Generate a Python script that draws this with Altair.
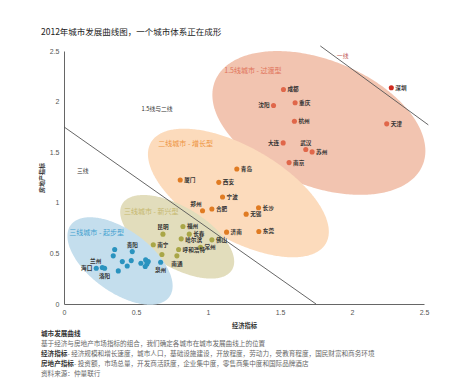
import altair as alt
import numpy as np
import pandas as pd

FONT = "Noto Sans CJK SC"
NUMFONT = "Liberation Sans"

# ---------------- data ----------------
city_names = ["深圳", "成都", "重庆", "沈阳", "杭州", "天津", "大连", "武汉", "苏州", "南京",
              "青岛", "厦门", "西安", "宁波", "郑州", "合肥", "长沙", "无锡", "济南", "东莞",
              "福州", "昆明", "长春", "哈尔滨", "佛山", "南宁", "常州", "呼和浩特", "南通", "",
              "贵阳", "", "", "", "", "", "", "", "", "", "", "", "泉州", "海口", "兰州", "洛阳"]
city_x = [2.273, 1.524, 1.605, 1.455, 1.600, 2.241, 1.522, 1.679, 1.723, 1.563,
          1.200, 0.807, 1.075, 1.101, 0.962, 1.027, 1.351, 1.265, 1.129, 1.353,
          0.826, 0.687, 0.870, 0.814, 1.027, 0.620, 0.948, 0.796, 0.784, 0.680,
          0.474, 0.352, 0.342, 0.405, 0.467, 0.439, 0.377, 0.534, 0.567, 0.585, 0.576, 0.564,
          0.671, 0.224, 0.266, 0.282]
city_y = [2.137, 2.120, 1.988, 1.962, 1.806, 1.780, 1.592, 1.526, 1.503, 1.397,
          1.334, 1.225, 1.202, 1.057, 0.921, 0.938, 0.951, 0.888, 0.710, 0.717,
          0.766, 0.690, 0.690, 0.644, 0.634, 0.585, 0.561, 0.538, 0.476, 0.489,
          0.518, 0.538, 0.476, 0.419, 0.429, 0.376, 0.327, 0.403, 0.436, 0.419, 0.396, 0.370,
          0.413, 0.353, 0.360, 0.353]
city_group = (["一线"] + ["1.5线"] * 9 + ["二线"] * 10 + ["新兴"] * 10 + ["起步"] * 16)
label_side = ["r", "r", "r", "l", "r", "r", "l", "t", "r", "r",
              "r", "r", "r", "r", "tl", "r", "r", "r", "r", "r",
              "r", "t", "r", "rd", "r", "r", "r", "r", "b", "r",
              "t", "r", "r", "r", "r", "r", "r", "r", "r", "r", "r", "r",
              "b", "l", "tl", "b"]

group_names = ["一线", "1.5线", "二线", "新兴", "起步"]
point_colors = ["#cf2a1e", "#e0674a", "#e07b22", "#a9a647", "#2a93bf"]

# ellipse shapes: centre (data units), semi-axes (px), tilt (deg)
ell_names = ["1.5线", "二线", "新兴", "起步"]
ell_cx = [1.770, 1.211, 0.786, 0.389]
ell_cy = [1.789, 1.097, 0.664, 0.425]
ell_a = [112, 101, 64, 61]
ell_b = [63, 46, 30, 31]
ell_deg = [22, 30, 31, 36]
ell_colors = ["#f2c4b0", "#fcdbbc", "#e2ddbc", "#c4deed"]

group_label_text = ["1.5线城市 - 过渡型", "二线城市 - 增长型", "三线城市 - 新兴型", "三线城市 - 起步型"]
group_label_x = [1.113, 0.655, 0.417, 0.037]
group_label_y = [2.302, 1.581, 0.909, 0.705]
group_label_colors = ["#e0735a", "#ee9440", "#c6b86e", "#3f9ecf"]

zone_text = ["1.5线与二线", "三线", "一线"]
zone_x = [0.646, 0.130, 1.935]
zone_y = [1.927, 1.314, 2.45]
zone_colors = ["#333333", "#333333", "#c0504d"]

line_id = ["a", "a", "b", "b"]
line_x = [0.0, 1.75, 1.78, 2.53]
line_y = [1.75, 0.0, 2.55, 1.77]

tick_vals = [0, 0.5, 1, 1.5, 2, 2.5]

title_text = "2012年城市发展曲线图，一个城市体系正在成形"
notes_bold = ["城市发展曲线", "", "经济指标", "房地产指标", ""]
notes_rest = ["",
              "基于经济与房地产市场指标的组合，我们确定各城市在城市发展曲线上的位置",
              " - 经济规模和增长速度，城市人口，基础设施建设，开放程度，劳动力，受教育程度，国民财富和商务环境",
              " - 投资额，市场总量，开发商活跃度，企业集中度，零售商集中度和国际品牌酒店",
              "资料来源：仲量联行"]

# ---------------- layout ----------------
W, H = 360, 253
PXX, PXY = W / 2.5, H / 2.5

XS = alt.Scale(domain=[0, 2.5], nice=False, zero=False)
YS = alt.Scale(domain=[0, 2.5], nice=False, zero=False)
xaxis = alt.Axis(values=tick_vals, format="~g", title="经济指标", grid=False, ticks=False,
                 labelPadding=4, labelFontSize=7, labelColor="#555", labelFont=NUMFONT,
                 titleFont=FONT, titleFontSize=6.3, titleFontWeight="bold", titleColor="#333",
                 titlePadding=7, domainColor="#666", labelFlush=False)
yaxis = alt.Axis(values=tick_vals, format="~g", title="房地产指标", grid=False, ticks=False,
                 labelPadding=5, labelFontSize=7, labelColor="#555", labelFont=NUMFONT,
                 titleFont=FONT, titleFontSize=6, titleFontWeight="bold", titleColor="#333",
                 titlePadding=5, domainColor="#666", labelFlush=False)


def X():
    return alt.X("x:Q", scale=XS, axis=xaxis)


def Y():
    return alt.Y("y:Q", scale=YS, axis=yaxis)


layers = []

# ellipses (filled bands between the upper and lower edge of each tilted ellipse)
for nm, cx, cy, a, b, deg, col in zip(ell_names, ell_cx, ell_cy, ell_a, ell_b, ell_deg, ell_colors):
    th = np.radians(deg)
    c, s = np.cos(th), np.sin(th)
    A = s * s / a ** 2 + c * c / b ** 2
    h = np.sqrt(a * a * c * c + b * b * s * s)
    Xp = h * np.cos(np.linspace(np.pi, 0, 181))
    B = 2 * c * s * (1 / b ** 2 - 1 / a ** 2) * Xp
    C = Xp * Xp * (c * c / a ** 2 + s * s / b ** 2) - 1
    disc = np.sqrt(np.clip(B * B - 4 * A * C, 0, None))
    Yu = (-B + disc) / (2 * A)
    Yl = (-B - disc) / (2 * A)
    edf = pd.DataFrame({"x": cx + Xp / PXX, "y": cy + Yu / PXY, "y2": cy + Yl / PXY})
    layers.append(
        alt.Chart(edf).mark_area(fill=col, color=col, opacity=1, clip=False).encode(
            x=X(), y=alt.Y("y:Q", scale=YS, axis=yaxis, stack=None), y2=alt.Y2("y2:Q"))
    )

# boundary lines
ldf = pd.DataFrame({"id": line_id, "x": line_x, "y": line_y})
layers.append(
    alt.Chart(ldf).mark_line(color="#555", strokeWidth=0.9, clip=False).encode(
        x=X(), y=Y(), detail="id:N")
)

# points
cdf = pd.DataFrame({"name": city_names, "x": city_x, "y": city_y,
                    "g": city_group, "side": label_side})
layers.append(
    alt.Chart(cdf).mark_circle(size=26, opacity=1).encode(
        x=X(), y=Y(),
        color=alt.Color("g:N", scale=alt.Scale(domain=group_names, range=point_colors), legend=None))
)

# city labels
side_props = {
    "r": dict(align="left", dx=4, dy=0),
    "rd": dict(align="left", dx=4, dy=1.5),
    "l": dict(align="right", dx=-4, dy=0),
    "t": dict(align="center", dx=0, dy=-7),
    "b": dict(align="center", dx=0, dy=8),
    "tl": dict(align="right", dx=-1, dy=-7),
}
for sd, pr in side_props.items():
    sub = cdf[(cdf["side"] == sd) & (cdf["name"] != "")]
    if len(sub) == 0:
        continue
    layers.append(
        alt.Chart(sub).mark_text(font=FONT, fontSize=5.6, fontWeight="bold", color="#333",
                                 baseline="middle", **pr).encode(x=X(), y=Y(), text="name:N")
    )

# group labels
gdf = pd.DataFrame({"t": group_label_text, "x": group_label_x, "y": group_label_y,
                    "c": group_label_colors})
layers.append(
    alt.Chart(gdf).mark_text(font=FONT, fontSize=7, align="left", baseline="middle").encode(
        x=X(), y=Y(), text="t:N", color=alt.Color("c:N", scale=None))
)

# zone labels
zdf = pd.DataFrame({"t": zone_text, "x": zone_x, "y": zone_y, "c": zone_colors})
layers.append(
    alt.Chart(zdf).mark_text(font=FONT, fontSize=5.8, align="center", baseline="middle").encode(
        x=X(), y=Y(), text="t:N", color=alt.Color("c:N", scale=None))
)

# title
layers.append(
    alt.Chart(pd.DataFrame({"t": [title_text]})).mark_text(
        font=FONT, fontSize=8.5, align="left", baseline="middle", color="#222").encode(
        text="t:N", x=alt.value(-23), y=alt.value(-19))
)

# footnotes
FS = 6.6
note_y = [283, 293.2, 303.2, 313.2, 323.2]
for bold, rest, yy in zip(notes_bold, notes_rest, note_y):
    if bold:
        layers.append(
            alt.Chart(pd.DataFrame({"t": [bold]})).mark_text(
                font=FONT, fontSize=FS, fontWeight="bold", align="left", baseline="middle",
                color="#333").encode(text="t:N", x=alt.value(-23), y=alt.value(yy))
        )
    if rest:
        xoff = -23 + (len(bold) * FS if bold else 0)
        layers.append(
            alt.Chart(pd.DataFrame({"t": [rest]})).mark_text(
                font=FONT, fontSize=FS, align="left", baseline="middle",
                color="#666").encode(text="t:N", x=alt.value(xoff), y=alt.value(yy))
        )

chart = alt.layer(*layers).properties(
    width=W, height=H,
    padding={"left": 56, "top": 43, "right": 18, "bottom": 76},
    autosize=alt.AutoSizeParams(type="none"),
    background="white",
).configure_view(stroke=None)

chart.save("out.html", embed_options={"renderer": "svg", "actions": False})
